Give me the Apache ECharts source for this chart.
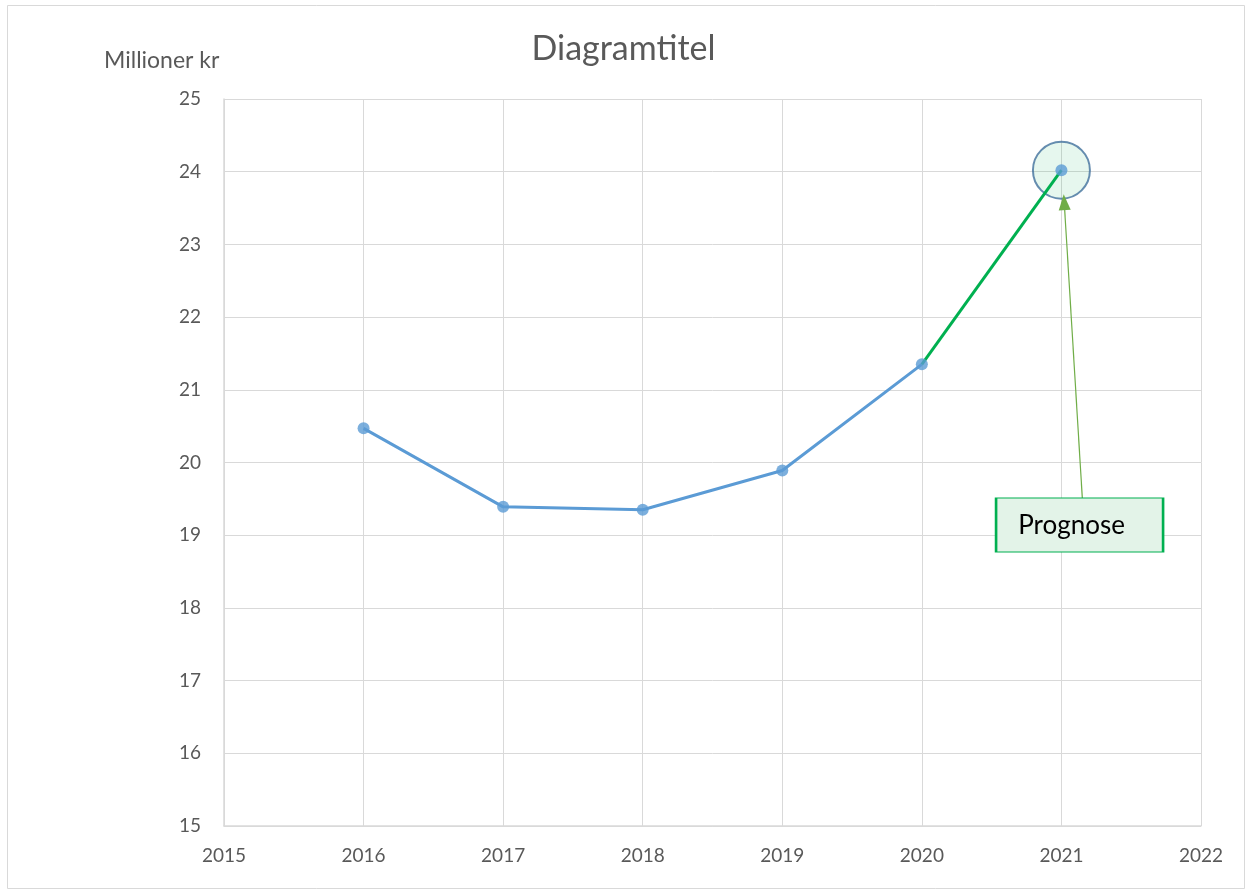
<!DOCTYPE html>
<html>
<head>
<meta charset="utf-8">
<script src="https://cdn.jsdelivr.net/npm/echarts@6/dist/echarts.min.js"></script>
<style>
  html, body { margin: 0; padding: 0; background: #fff; }
  #main { width: 1247px; height: 890px; }
</style>
</head>
<body>
<div id="main"></div>
<script>
// data
var years = [2016, 2017, 2018, 2019, 2020, 2021];
var values = [20.47, 19.39, 19.35, 19.89, 21.35, 24.02];
var xTicks = [2015, 2016, 2017, 2018, 2019, 2020, 2021, 2022];
var yTicks = [15, 16, 17, 18, 19, 20, 21, 22, 23, 24, 25];
var forecastFrom = 2020;
var noteText = 'Prognose';
var notePos = [2021.13, 19.14];
var arrowFrom = [2021.15, 19.5];
var arrowTo = [2021.02, 23.58];

var pts = years.map(function (y, i) { return [y, values[i]]; });
var pastPts = pts.filter(function (p) { return p[0] <= forecastFrom; });
var forecastPts = pts.filter(function (p) { return p[0] >= forecastFrom; });
var lastPt = pts[pts.length - 1];

var font = 'Lato, "Open Sans", sans-serif';
var grey = '#595959';
var gridCol = '#d9d9d9';

var chart = echarts.init(document.getElementById('main'));
chart.setOption({
  animation: false,
  backgroundColor: '#fff',
  title: {
    text: 'Diagramtitel',
    left: 'center',
    top: 27,
    textStyle: { fontFamily: font, fontSize: 34, fontWeight: 'normal', color: grey }
  },
  graphic: [
    {
      type: 'rect', left: 5, top: 3,
      shape: { width: 1237, height: 883 },
      style: { fill: 'none', stroke: gridCol, lineWidth: 1 }, silent: true
    },
    {
      type: 'text', left: 104, top: 49,
      style: { text: 'Millioner kr', fontFamily: font, fontSize: 23, fill: grey }
    }
  ],
  grid: { left: 224, right: 46, top: 99, bottom: 64 },
  xAxis: {
    type: 'value',
    min: xTicks[0], max: xTicks[xTicks.length - 1], interval: 1,
    axisLine: { lineStyle: { color: gridCol, width: 1.5 } },
    axisTick: { show: false },
    axisLabel: {
      color: grey, fontFamily: font, fontSize: 19, margin: 20,
      formatter: function (v) { return String(v); }
    },
    splitLine: { lineStyle: { color: gridCol, width: 1 } }
  },
  yAxis: {
    type: 'value',
    min: yTicks[0], max: yTicks[yTicks.length - 1], interval: 1,
    axisLine: { show: true, lineStyle: { color: gridCol, width: 1.5 } },
    axisTick: { show: false },
    axisLabel: { color: grey, fontFamily: font, fontSize: 19, margin: 23 },
    splitLine: { lineStyle: { color: gridCol, width: 1 } }
  },
  series: [
    {
      type: 'scatter',
      data: [lastPt],
      symbolSize: 57,
      itemStyle: { color: 'rgba(0,176,80,0.12)', borderColor: '#41719C', borderWidth: 2 },
      z: 2,
      silent: true
    },
    {
      type: 'line',
      data: pastPts,
      showSymbol: false,
      lineStyle: { color: '#5B9BD5', width: 3 },
      z: 3
    },
    {
      type: 'line',
      data: forecastPts,
      showSymbol: false,
      lineStyle: { color: '#00B050', width: 3 },
      z: 3,
      markLine: {
        silent: true,
        symbol: ['none', 'triangle'],
        symbolSize: [12, 16],
        label: { show: false },
        lineStyle: { color: '#70AD47', width: 1.2, type: 'solid' },
        data: [[{ coord: arrowFrom }, { coord: arrowTo }]]
      },
      markPoint: {
        silent: true,
        symbol: 'rect',
        symbolSize: [167, 54],
        itemStyle: { color: '#E3F3E8', borderColor: '#00B050', borderWidth: 1.5 },
        label: {
          show: true, formatter: noteText, color: '#000',
          fontFamily: font, fontSize: 26, offset: [-8, 1]
        },
        data: [{ coord: notePos }]
      }
    },
    {
      type: 'scatter',
      data: pts,
      symbolSize: 12,
      itemStyle: { color: '#5B9BD5' },
      z: 4
    }
  ]
});
</script>
</body>
</html>
